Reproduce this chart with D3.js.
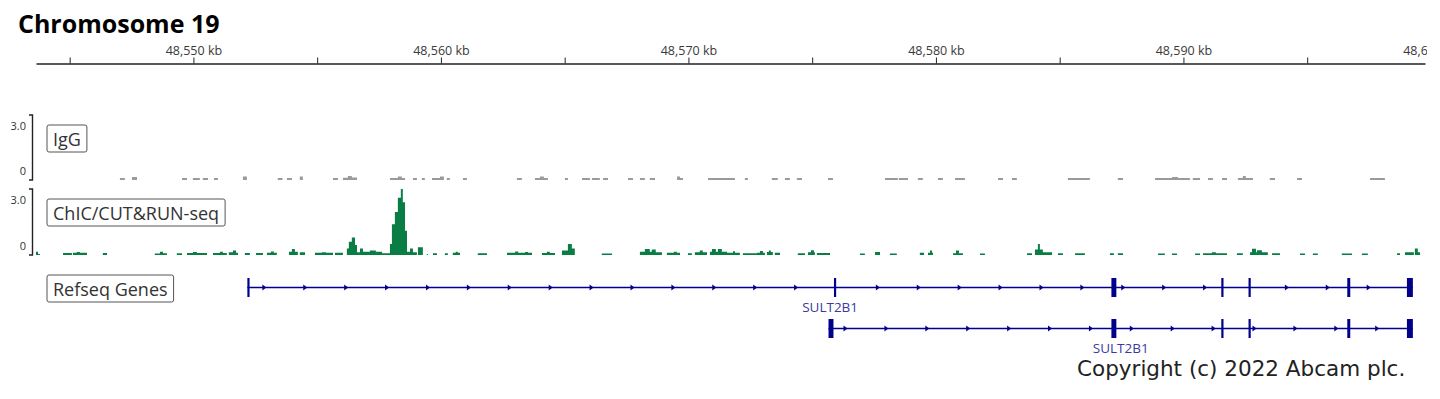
<!DOCTYPE html>
<html>
<head>
<meta charset="utf-8">
<script src="https://cdn.jsdelivr.net/npm/d3@7"></script>
<style>
  body { margin: 0; background: #fff; }
  svg text { font-family: "Open Sans", sans-serif; }
</style>
</head>
<body>
<div id="chart"></div>
<script>
const chromosome = "Chromosome 19";
const viewKb = [48543.64, 48599.76];
const rulerTicksKb = d3.range(48545, 48601, 5);
const trackMax = 3.0;
const trackNames = ["IgG", "ChIC/CUT&RUN-seq"];
const geneTrackName = "Refseq Genes";
const geneName = "SULT2B1";
const copyright = "Copyright (c) 2022 Abcam plc.";

// coverage segments: [start kb, end kb, value]
const igg = [
  [48547.03, 48547.23, 0.09], [48547.52, 48547.72, 0.14], [48549.54, 48549.74, 0.09],
  [48549.98, 48550.26, 0.09], [48550.38, 48550.59, 0.09], [48550.83, 48550.99, 0.09],
  [48552.00, 48552.16, 0.16], [48553.41, 48553.60, 0.09], [48553.78, 48553.98, 0.09],
  [48554.30, 48554.42, 0.16], [48555.64, 48555.84, 0.09], [48556.04, 48556.24, 0.10],
  [48556.24, 48556.40, 0.18], [48556.40, 48556.61, 0.12], [48557.94, 48558.26, 0.09],
  [48558.26, 48558.42, 0.16], [48558.42, 48558.55, 0.09], [48558.87, 48559.03, 0.09],
  [48559.23, 48559.35, 0.09], [48559.64, 48559.96, 0.09], [48559.96, 48560.12, 0.16],
  [48560.24, 48560.36, 0.09], [48560.89, 48561.05, 0.09], [48563.07, 48563.27, 0.09],
  [48563.80, 48564.00, 0.09], [48564.00, 48564.16, 0.16], [48564.16, 48564.32, 0.09],
  [48565.01, 48565.13, 0.09], [48565.70, 48566.02, 0.09], [48566.10, 48566.42, 0.09],
  [48566.55, 48566.75, 0.09], [48567.56, 48567.76, 0.09], [48568.04, 48568.24, 0.09],
  [48568.44, 48568.65, 0.09], [48569.54, 48569.66, 0.16], [48569.66, 48569.78, 0.09],
  [48570.79, 48571.88, 0.09], [48572.28, 48572.40, 0.09], [48573.37, 48573.61, 0.09],
  [48573.90, 48574.10, 0.09], [48574.38, 48574.59, 0.09], [48575.64, 48575.84, 0.09],
  [48577.94, 48578.46, 0.09], [48578.50, 48578.87, 0.09], [48579.27, 48579.47, 0.09],
  [48580.08, 48580.28, 0.09], [48580.77, 48581.17, 0.09], [48582.51, 48582.71, 0.09],
  [48583.07, 48583.27, 0.09], [48585.33, 48586.22, 0.09], [48587.35, 48587.56, 0.09],
  [48588.85, 48589.54, 0.09], [48589.54, 48589.78, 0.14], [48589.78, 48590.26, 0.09],
  [48590.38, 48590.67, 0.09], [48590.99, 48591.19, 0.09], [48591.56, 48591.76, 0.09],
  [48592.20, 48592.40, 0.09], [48592.40, 48592.52, 0.18], [48592.52, 48592.81, 0.09],
  [48593.49, 48593.70, 0.09], [48594.59, 48594.79, 0.09], [48597.54, 48598.14, 0.09]
];

const chic = [
  [48543.64, 48543.72, 0.15], [48543.72, 48543.80, 0.05], [48544.73, 48545.09, 0.09],
  [48545.13, 48545.29, 0.10], [48545.29, 48545.41, 0.14], [48545.41, 48545.70, 0.10],
  [48546.34, 48546.51, 0.09], [48548.44, 48548.65, 0.07], [48548.65, 48548.77, 0.15],
  [48548.77, 48548.93, 0.08], [48549.33, 48549.54, 0.08], [48549.74, 48549.98, 0.09],
  [48549.98, 48550.14, 0.14], [48550.14, 48550.55, 0.09], [48550.79, 48551.07, 0.09],
  [48551.07, 48551.19, 0.15], [48551.19, 48551.35, 0.09], [48551.43, 48551.60, 0.12],
  [48551.60, 48551.72, 0.20], [48551.72, 48551.80, 0.10], [48552.08, 48552.28, 0.09],
  [48552.53, 48552.81, 0.09], [48552.97, 48553.13, 0.10], [48553.13, 48553.25, 0.16],
  [48553.25, 48553.37, 0.10], [48553.86, 48553.98, 0.15], [48553.98, 48554.10, 0.27],
  [48554.10, 48554.22, 0.15], [48554.30, 48554.51, 0.12], [48554.91, 48555.19, 0.10],
  [48555.19, 48555.35, 0.13], [48555.35, 48555.64, 0.10], [48555.72, 48556.04, 0.10],
  [48556.20, 48556.28, 0.30], [48556.28, 48556.40, 0.60], [48556.40, 48556.53, 0.80],
  [48556.53, 48556.61, 0.45], [48556.61, 48556.73, 0.12], [48556.73, 48556.85, 0.30],
  [48556.85, 48557.13, 0.15], [48557.13, 48557.37, 0.20], [48557.37, 48557.62, 0.15],
  [48557.62, 48557.94, 0.08], [48557.94, 48558.02, 0.50], [48558.02, 48558.14, 1.40],
  [48558.14, 48558.26, 1.95], [48558.26, 48558.38, 2.60], [48558.38, 48558.46, 3.00],
  [48558.46, 48558.55, 2.40], [48558.55, 48558.63, 1.10], [48558.63, 48558.75, 0.15],
  [48558.75, 48558.87, 0.30], [48558.87, 48559.03, 0.12], [48559.07, 48559.27, 0.35],
  [48559.43, 48559.47, 0.05], [48559.68, 48559.84, 0.08], [48560.16, 48560.28, 0.08],
  [48560.48, 48560.60, 0.10], [48560.60, 48560.68, 0.15], [48560.68, 48560.77, 0.10],
  [48561.49, 48561.86, 0.08], [48562.67, 48563.00, 0.10], [48563.00, 48563.12, 0.16],
  [48563.12, 48563.40, 0.10], [48563.40, 48563.52, 0.14], [48563.52, 48563.68, 0.10],
  [48564.08, 48564.28, 0.09], [48564.28, 48564.40, 0.15], [48564.40, 48564.61, 0.09],
  [48564.89, 48565.13, 0.20], [48565.13, 48565.29, 0.50], [48565.29, 48565.41, 0.30],
  [48566.50, 48566.91, 0.07], [48568.04, 48568.24, 0.15], [48568.24, 48568.44, 0.27],
  [48568.44, 48568.52, 0.15], [48568.52, 48568.68, 0.25], [48568.68, 48568.93, 0.12],
  [48569.13, 48569.41, 0.10], [48569.41, 48569.53, 0.15], [48569.53, 48569.66, 0.10],
  [48569.98, 48570.14, 0.08], [48570.26, 48570.46, 0.12], [48570.46, 48570.58, 0.20],
  [48570.58, 48570.75, 0.12], [48570.87, 48570.95, 0.15], [48570.95, 48571.11, 0.27],
  [48571.11, 48571.19, 0.15], [48571.19, 48571.35, 0.27], [48571.35, 48571.56, 0.15],
  [48571.56, 48571.80, 0.10], [48571.80, 48571.88, 0.17], [48571.88, 48572.08, 0.10],
  [48572.20, 48572.77, 0.08], [48572.77, 48572.89, 0.10], [48572.89, 48573.01, 0.18],
  [48573.01, 48573.09, 0.10], [48573.17, 48573.25, 0.14], [48573.25, 48573.33, 0.20],
  [48573.33, 48573.41, 0.14], [48573.49, 48573.70, 0.10], [48574.42, 48574.71, 0.08],
  [48574.83, 48574.95, 0.12], [48574.95, 48575.07, 0.22], [48575.07, 48575.11, 0.12],
  [48575.19, 48575.72, 0.09], [48576.93, 48577.13, 0.07], [48577.54, 48577.74, 0.14],
  [48578.14, 48578.42, 0.07], [48579.35, 48579.52, 0.10], [48579.68, 48579.76, 0.10],
  [48579.76, 48579.84, 0.20], [48579.84, 48579.88, 0.10], [48580.69, 48580.81, 0.08],
  [48580.81, 48580.93, 0.20], [48580.93, 48581.09, 0.08], [48581.78, 48581.98, 0.07],
  [48583.68, 48583.88, 0.08], [48584.00, 48584.12, 0.25], [48584.12, 48584.20, 0.50],
  [48584.20, 48584.32, 0.25], [48584.32, 48584.69, 0.12], [48584.93, 48585.13, 0.08],
  [48585.62, 48586.02, 0.08], [48587.03, 48587.19, 0.08], [48587.35, 48587.56, 0.08],
  [48588.97, 48589.25, 0.07], [48589.54, 48589.74, 0.07], [48590.47, 48590.67, 0.07],
  [48590.79, 48591.15, 0.08], [48591.15, 48591.31, 0.12], [48591.31, 48591.76, 0.08],
  [48592.16, 48592.40, 0.08], [48592.69, 48592.77, 0.12], [48592.77, 48592.93, 0.28],
  [48592.93, 48592.97, 0.12], [48592.97, 48593.17, 0.22], [48593.17, 48593.41, 0.12],
  [48593.58, 48593.90, 0.08], [48594.71, 48594.91, 0.07], [48595.23, 48595.43, 0.07],
  [48596.40, 48596.81, 0.07], [48597.21, 48597.45, 0.07], [48598.63, 48598.75, 0.08],
  [48598.95, 48599.31, 0.12], [48599.35, 48599.47, 0.30], [48599.47, 48599.56, 0.12]
];

// SULT2B1 transcripts, kb
const tx1Span = [48552.18, 48599.27];
const tx1Exons = [[48552.18, 48552.24], [48575.88, 48575.96], [48587.09, 48587.29],
  [48591.53, 48591.61], [48592.63, 48592.71], [48596.62, 48596.74], [48599.03, 48599.27]];
const tx2Span = [48575.66, 48599.27];
const tx2Exons = [[48575.66, 48575.86], [48587.09, 48587.29], [48591.53, 48591.61],
  [48592.63, 48592.71], [48596.62, 48596.74], [48599.03, 48599.27]];

const width = 1440, height = 399;
const left = 36, right = 1425;
const geneColor = "#00008c";

const svg = d3.select("#chart").append("svg")
    .attr("width", width)
    .attr("height", height);

svg.append("defs").append("clipPath").attr("id", "view")
    .append("rect").attr("x", 0).attr("y", 0).attr("width", 1427).attr("height", height);

const x = d3.scaleLinear().domain(viewKb).range([left, right]);

svg.append("text")
    .attr("x", 18).attr("y", 33)
    .style("font-size", "25px").style("font-weight", "bold")
    .attr("fill", "#000")
    .text(chromosome);

// ruler
const ruler = svg.append("g")
    .attr("clip-path", "url(#view)")
    .append("g")
    .attr("transform", "translate(0,63.5)")
    .call(d3.axisTop(x)
        .tickValues(rulerTicksKb)
        .tickSize(6)
        .tickSizeOuter(0)
        .tickFormat(d => d % 10 === 0 ? d3.format(",")(d) + " kb" : ""));
ruler.select(".domain").attr("stroke", "#222").attr("stroke-width", 1.3);
ruler.selectAll(".tick line").attr("stroke", "#222");
ruler.selectAll(".tick text")
    .attr("y", -9)
    .attr("fill", "#3a3a3a")
    .style("font-family", "'Open Sans', sans-serif")
    .style("font-size", "12.5px");

function label(g, text, lx, ly) {
    const t = g.append("text")
        .attr("x", lx + 6).attr("y", ly)
        .attr("fill", "#333")
        .style("font-size", "18px")
        .text(text);
    const b = t.node().getBBox();
    g.insert("rect", "text")
        .attr("x", lx).attr("y", b.y - 2)
        .attr("width", b.width + 12).attr("height", b.height + 3)
        .attr("rx", 2)
        .attr("fill", "#fff").attr("stroke", "#555").attr("stroke-width", 1);
}

function barsPath(data, y) {
    return data.map(d => {
        const x0 = x(d[0]), x1 = Math.max(x(d[1]), x0 + 1);
        const v = Math.min(d[2], trackMax);
        return `M${x0},${y(0)}V${y(v)}H${x1}V${y(0)}Z`;
    }).join("");
}

function signalTrack(data, name, top, bottom, color) {
    const g = svg.append("g");
    const y = d3.scaleLinear().domain([0, trackMax]).range([bottom, top]);
    g.append("path")
        .attr("d", `M29,${top}H32.5V${bottom}H29`)
        .attr("fill", "none").attr("stroke", "#222").attr("stroke-width", 1.4);
    g.append("text").attr("x", 26).attr("y", top + 15)
        .attr("text-anchor", "end").attr("fill", "#333")
        .style("font-size", "11px").text(trackMax.toFixed(1));
    g.append("text").attr("x", 26).attr("y", bottom - 5)
        .attr("text-anchor", "end").attr("fill", "#333")
        .style("font-size", "11px").text("0");
    g.append("path")
        .attr("d", barsPath(data, y))
        .attr("fill", color);
    label(g, name, 47, top + 31);
}

signalTrack(igg, trackNames[0], 115, 180, "#9a9a9a");
signalTrack(chic, trackNames[1], 189, 255, "#0a7d45");

// genes
const gg = svg.append("g");
label(gg, geneTrackName, 47, 296);

function transcript(span, exons, lineY) {
    const x0 = x(span[0]), x1 = x(span[1]);
    gg.append("line")
        .attr("x1", x0).attr("x2", x1)
        .attr("y1", lineY).attr("y2", lineY)
        .attr("stroke", geneColor).attr("stroke-width", 1.5);
    const exonPx = exons.map(e => [x(e[0]), x(e[1])]);
    const arrows = [];
    for (let p = x0 + 17; p < x1 - 4; p += 40.9) {
        if (!exonPx.some(e => p > e[0] - 3 && p < e[1] + 3)) arrows.push(p);
    }
    gg.selectAll(null).data(arrows).enter().append("path")
        .attr("d", p => `M${p - 2},${lineY - 3}L${p + 2},${lineY}L${p - 2},${lineY + 3}Z`)
        .attr("fill", geneColor);
    gg.selectAll(null).data(exons).enter().append("rect")
        .attr("x", d => x(d[0]))
        .attr("width", d => Math.max(2.2, x(d[1]) - x(d[0])))
        .attr("y", lineY - 9.5).attr("height", 19)
        .attr("fill", geneColor);
    gg.append("text")
        .attr("x", (x0 + x1) / 2).attr("y", lineY + 24)
        .attr("text-anchor", "middle")
        .attr("fill", "#3a3a9e")
        .style("font-size", "13.5px")
        .text(geneName);
}

transcript(tx1Span, tx1Exons, 287.5);
transcript(tx2Span, tx2Exons, 328.5);

svg.append("text")
    .attr("x", 1077).attr("y", 376)
    .attr("fill", "#222")
    .style("font-family", "'DejaVu Sans', sans-serif")
    .style("font-size", "21.5px")
    .text(copyright);
</script>
</body>
</html>
